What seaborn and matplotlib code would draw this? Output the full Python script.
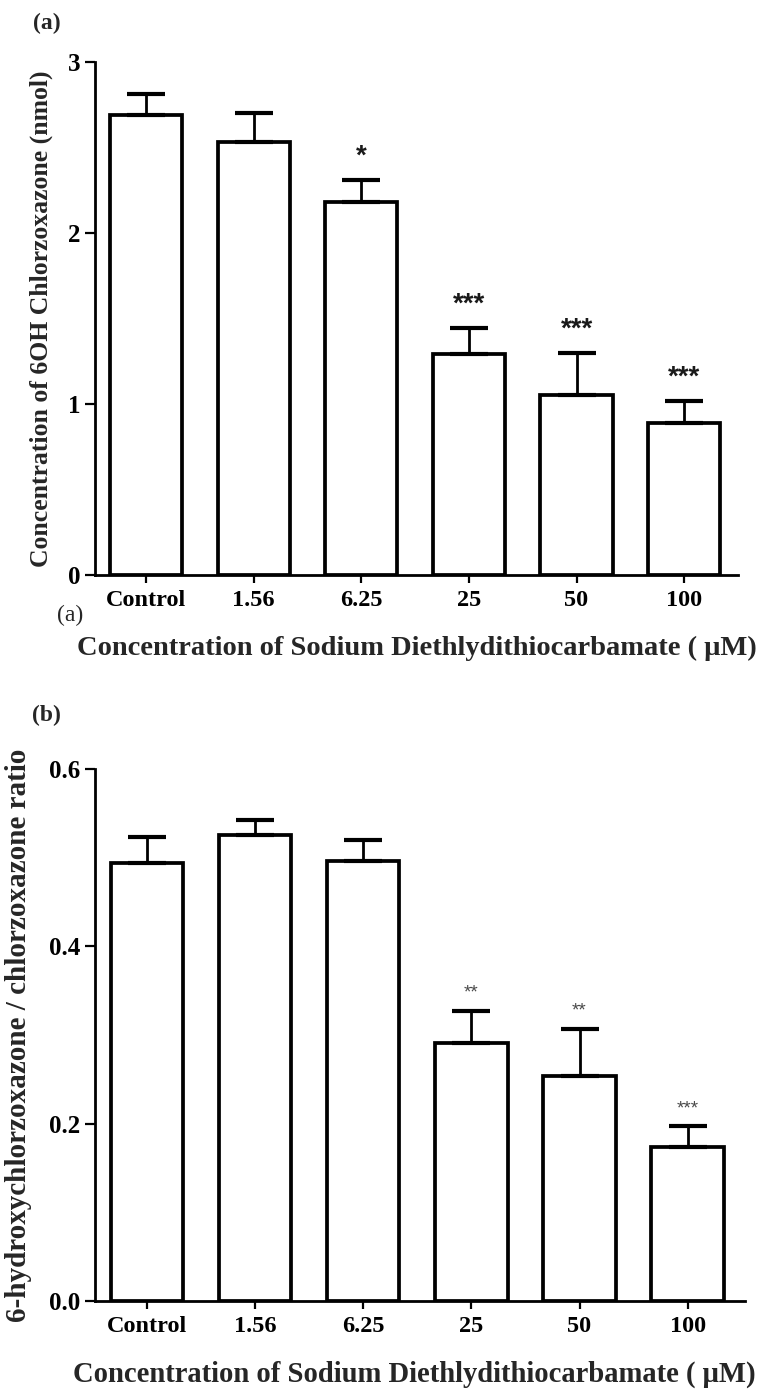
import numpy as np
import pandas as pd
import matplotlib
matplotlib.use("Agg")
import matplotlib.pyplot as plt
import seaborn as sns

# Sodium diethyldithiocarbamate concentrations (uM)
categories = ["Control", "1.56", "6.25", "25", "50", "100"]

# (a) 6-OH chlorzoxazone formed (nmol), mean and SEM
metabolite_mean = [2.69, 2.53, 2.18, 1.29, 1.05, 0.89]
metabolite_sem = [0.12, 0.17, 0.13, 0.155, 0.25, 0.13]
metabolite_sig = ["", "", "*", "***", "***", "***"]

# (b) 6-hydroxychlorzoxazone / chlorzoxazone ratio, mean and SEM
ratio_mean = [0.494, 0.526, 0.496, 0.291, 0.254, 0.174]
ratio_sem = [0.029, 0.016, 0.024, 0.036, 0.053, 0.023]
ratio_sig = ["", "", "", "**", "**", "***"]

y_ticks_a = [0, 1, 2, 3]
y_ticks_b = [0.0, 0.2, 0.4, 0.6]

xlabel = "Concentration of Sodium Diethlydithiocarbamate ( \u03bcM)"

sns.set_theme(style="ticks")
plt.rcParams["font.family"] = ["Liberation Serif", "DejaVu Serif"]
plt.rcParams["font.weight"] = "bold"
plt.rcParams["axes.labelweight"] = "bold"

W, H = 763, 1391
fig = plt.figure(figsize=(W / 100, H / 100), dpi=100)
fig.patch.set_facecolor("white")


def px_axes(left, top, right, bottom):
    return fig.add_axes([left / W, 1 - bottom / H, (right - left) / W, (bottom - top) / H])


ax_a = px_axes(95, 62, 738, 575)
ax_b = px_axes(95, 769, 745, 1301)


def draw_panel(ax, means, sems, sig, ylim, yticks, yfmt, xlim, star_kw, star_off):
    df = pd.DataFrame({"conc": categories, "value": means})
    sns.barplot(data=df, x="conc", y="value", ax=ax, width=0.67,
                color="white", edgecolor="black", linewidth=2.7,
                errorbar=None, saturation=1)
    pos = np.arange(len(categories))
    ax.errorbar(pos, means, yerr=[np.zeros(len(sems)), sems], fmt="none",
                ecolor="black", elinewidth=2.0, capsize=13.5, capthick=3.0,
                zorder=1)
    for x, m, s, t in zip(pos, means, sems, sig):
        if t:
            ax.text(x, m + s + star_off, t, ha="center", va="baseline", **star_kw)
    ax.set_ylim(*ylim)
    ax.set_xlim(*xlim)
    ax.set_yticks(yticks)
    ax.set_yticklabels([yfmt.format(v) for v in yticks])
    sns.despine(ax=ax)
    for sp in ("left", "bottom"):
        ax.spines[sp].set_linewidth(2.0)
        ax.spines[sp].set_color("black")
    ax.tick_params(axis="x", direction="out", length=6, width=1.6, pad=5,
                   labelsize=17.5, colors="black")
    ax.tick_params(axis="y", direction="out", length=7.5, width=1.6, pad=3,
                   labelsize=18, colors="black")
    for lab in ax.get_xticklabels() + ax.get_yticklabels():
        lab.set_fontweight("bold")
    ax.set_facecolor("white")


draw_panel(ax_a, metabolite_mean, metabolite_sem, metabolite_sig,
           (0, 3), y_ticks_a, "{:.0f}", (-0.474, 5.50),
           dict(family=["Liberation Sans"], fontsize=20, fontweight="bold",
                color="#1a1a1a"), 0.095)
draw_panel(ax_b, ratio_mean, ratio_sem, ratio_sig,
           (0, 0.6), y_ticks_b, "{:.1f}", (-0.48, 5.53),
           dict(family=["Liberation Sans"], fontsize=13.5, fontweight="normal",
                color="#4a4a4a"), 0.015)

# axis titles
ax_a.set_ylabel("Concentration of 6OH Chlorzoxazone (nmol)", fontsize=18.5,
                fontweight="bold")
ax_a.yaxis.label.set_va("center")
ax_a.yaxis.set_label_coords(-0.084, 0.5)
ax_a.set_xlabel(xlabel, fontsize=20.5, fontweight="bold")
ax_a.xaxis.label.set_va("baseline")
ax_a.xaxis.set_label_coords(0.5, -0.156)

ax_b.set_ylabel("6-hydroxychlorzoxazone / chlorzoxazone ratio", fontsize=21,
                fontweight="bold")
ax_b.yaxis.label.set_va("center")
ax_b.yaxis.set_label_coords(-0.117, 0.5)
ax_b.set_xlabel(xlabel, fontsize=20.6, fontweight="bold")
ax_b.xaxis.label.set_va("baseline")
ax_b.xaxis.label.set_ha("left")
ax_b.xaxis.set_label_coords(-0.034, -0.152)

# panel tags
fig.text(33 / W, 1 - 29 / H, "(a)", fontsize=17, fontweight="bold",
         ha="left", va="baseline")
fig.text(57 / W, 1 - 621 / H, "(a)", fontsize=17, fontweight="normal",
         ha="left", va="baseline")
fig.text(32 / W, 1 - 721 / H, "(b)", fontsize=17, fontweight="bold",
         ha="left", va="baseline")

fig.savefig("out.png", dpi=100, facecolor="white")
